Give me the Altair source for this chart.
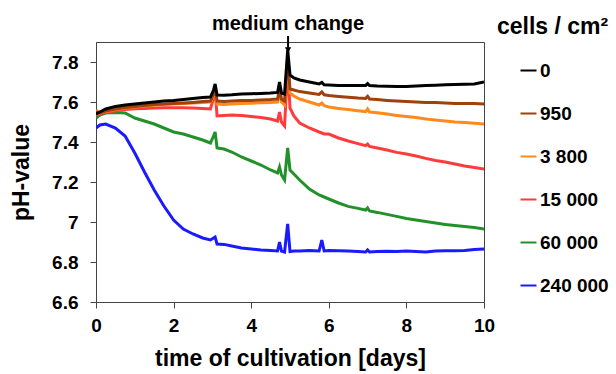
import altair as alt
import pandas as pd

# time of cultivation [days]
days = [0, 0.1, 0.25, 0.5, 0.75, 1.0, 1.25, 1.5, 1.75, 2.0, 2.25, 2.5, 2.75, 2.95,
        3.03, 3.07, 3.12, 3.3, 3.5, 3.75, 4.0, 4.25, 4.5, 4.68, 4.73, 4.78, 4.86,
        4.94, 5.0, 5.1, 5.25, 5.5, 5.75, 5.82, 5.88, 6.0, 6.25, 6.5, 6.75, 6.95,
        7.0, 7.05, 7.25, 7.5, 7.75, 8.0, 8.25, 8.5, 8.75, 9.0, 9.25, 9.5, 9.75, 10.0]

ph_0 = [7.54, 7.55, 7.565, 7.578, 7.585, 7.59, 7.595, 7.60, 7.605, 7.607, 7.612, 7.617, 7.622, 7.625,
        7.66, 7.69, 7.635, 7.634, 7.636, 7.64, 7.641, 7.643, 7.645, 7.648, 7.70, 7.645, 7.64,
        7.86, 7.735, 7.72, 7.71, 7.70, 7.69, 7.698, 7.686, 7.685, 7.683, 7.682, 7.682, 7.683,
        7.692, 7.682, 7.68, 7.679, 7.678, 7.678, 7.68, 7.682, 7.684, 7.686, 7.687, 7.689, 7.69, 7.70]

ph_950 = [7.55, 7.545, 7.555, 7.565, 7.572, 7.578, 7.583, 7.587, 7.59, 7.592, 7.595, 7.598, 7.602, 7.605,
          7.64, 7.675, 7.605, 7.603, 7.605, 7.607, 7.608, 7.61, 7.612, 7.615, 7.67, 7.615, 7.605,
          7.82, 7.665, 7.66, 7.652, 7.645, 7.638, 7.65, 7.636, 7.632, 7.628, 7.624, 7.62, 7.618,
          7.628, 7.615, 7.612, 7.608, 7.605, 7.603, 7.60, 7.598, 7.597, 7.595, 7.593, 7.592, 7.592, 7.59]

ph_3800 = [7.56, 7.545, 7.552, 7.562, 7.57, 7.575, 7.58, 7.584, 7.587, 7.59, 7.592, 7.595, 7.597, 7.60,
           7.635, 7.67, 7.59, 7.588, 7.59, 7.592, 7.594, 7.596, 7.598, 7.60, 7.655, 7.60, 7.585,
           7.80, 7.645, 7.63, 7.615, 7.60, 7.585, 7.595, 7.582, 7.575, 7.568, 7.562, 7.556, 7.552,
           7.565, 7.55, 7.546, 7.54, 7.533, 7.527, 7.522, 7.515, 7.51, 7.505, 7.50, 7.497, 7.494, 7.49]

ph_15000 = [7.535, 7.54, 7.548, 7.556, 7.562, 7.566, 7.568, 7.57, 7.571, 7.571, 7.571, 7.57, 7.568, 7.565,
            7.62, 7.665, 7.53, 7.532, 7.535, 7.533, 7.528, 7.522, 7.515, 7.505, 7.55, 7.50, 7.48,
            7.78, 7.57, 7.53, 7.495, 7.47, 7.45, 7.445, 7.44, 7.44, 7.42, 7.405, 7.392, 7.382,
            7.39, 7.378, 7.37, 7.36, 7.348, 7.34, 7.33, 7.318, 7.308, 7.30, 7.29, 7.28, 7.272, 7.265]

ph_60000 = [7.52, 7.535, 7.545, 7.548, 7.545, 7.52, 7.505, 7.49, 7.47, 7.45, 7.44, 7.425, 7.41, 7.395,
            7.43, 7.45, 7.37, 7.365, 7.35, 7.325, 7.305, 7.285, 7.26, 7.245, 7.275, 7.235, 7.21,
            7.37, 7.26, 7.24, 7.21, 7.165, 7.135, 7.13, 7.125, 7.115, 7.095, 7.078, 7.068, 7.06,
            7.07, 7.055, 7.048, 7.038, 7.028, 7.018, 7.01, 7.002, 6.995, 6.988, 6.982, 6.977, 6.972, 6.965]

ph_240000 = [7.47, 7.485, 7.49, 7.47, 7.43, 7.345, 7.25, 7.16, 7.08, 7.01, 6.965, 6.94, 6.92, 6.91,
             6.92, 6.925, 6.89, 6.888, 6.88, 6.87, 6.865, 6.86, 6.857, 6.855, 6.90, 6.855, 6.85,
             6.99, 6.852, 6.855, 6.855, 6.857, 6.855, 6.91, 6.855, 6.857, 6.856, 6.855, 6.853, 6.85,
             6.86, 6.85, 6.853, 6.854, 6.853, 6.855, 6.853, 6.85, 6.855, 6.856, 6.856, 6.857, 6.862, 6.865]

cell_labels = ["0", "950", "3 800", "15 000", "60 000", "240 000"]
palette = ["#000000", "#a0400c", "#ff8a1c", "#ff3b3b", "#23912a", "#1a1aff"]

annot_day = [4.95]
annot_text = ["medium change"]

x_ticks = [0, 2, 4, 6, 8, 10]
y_ticks = [6.6, 6.8, 7.0, 7.2, 7.4, 7.6, 7.8]

series = {"0": ph_0, "950": ph_950, "3 800": ph_3800, "15 000": ph_15000,
          "60 000": ph_60000, "240 000": ph_240000}
rows = []
for lab in reversed(cell_labels):
    for d, v in zip(days, series[lab]):
        rows.append({"day": d, "ph": v, "cells": lab})
df = pd.DataFrame(rows)
ann = pd.DataFrame({"day": annot_day, "label": annot_text})

FONT = "Liberation Sans"

x_scale = alt.Scale(domain=[0, 10], nice=False, zero=False)
y_scale = alt.Scale(domain=[6.6, 7.9], nice=False, zero=False)

lines = alt.Chart(df).mark_line(strokeWidth=3, clip=True).encode(
    x=alt.X("day:Q", scale=x_scale,
            axis=alt.Axis(values=x_ticks, title="time of cultivation [days]",
                          format="d", labelFlush=False, labelPadding=8, titlePadding=12)),
    y=alt.Y("ph:Q", scale=y_scale,
            axis=alt.Axis(values=y_ticks, title="pH-value", format=".1~f",
                          labelFlush=False, labelPadding=12, titlePadding=18)),
    color=alt.Color("cells:N", scale=alt.Scale(domain=cell_labels, range=palette),
                    legend=alt.Legend(title="cells / cm²", orient="none",
                                      legendX=401, legendY=-26,
                                      symbolType="stroke", symbolSize=256,
                                      symbolStrokeWidth=2, symbolOffset=22,
                                      labelOffset=2, rowPadding=23, titlePadding=22,
                                      padding=0)),
)

text = alt.Chart(ann).mark_text(font=FONT, fontSize=20, fontWeight="bold", color="black",
                                align="center", baseline="alphabetic").encode(
    x="day:Q", y=alt.value(-12), text="label:N")

rule = alt.Chart(ann).mark_rule(strokeWidth=2, color="black").encode(
    x="day:Q", y=alt.value(-6), y2=alt.value(10))

head = alt.Chart(ann).mark_point(shape="triangle-down", filled=True, size=40,
                                 color="black", opacity=1).encode(
    x="day:Q", y=alt.value(8))

chart = alt.layer(lines, rule, head, text).properties(
    width=388, height=260,
    autosize=alt.AutoSizeParams(type="none"),
    padding={"left": 96, "top": 42, "right": 132, "bottom": 72},
).configure_view(stroke="#444", strokeWidth=1).configure_axis(
    labelFont=FONT, labelFontSize=19, labelFontWeight="bold", labelColor="black",
    titleFont=FONT, titleFontSize=23, titleFontWeight="bold", titleColor="black",
    domainColor="#444", tickColor="#444", tickSize=6, grid=False,
).configure_legend(
    titleFont=FONT, titleFontSize=23, titleFontWeight="bold", titleColor="black",
    labelFont=FONT, labelFontSize=19, labelFontWeight="bold", labelColor="black",
)

chart.save("out.html", embed_options={"renderer": "svg", "actions": False})
